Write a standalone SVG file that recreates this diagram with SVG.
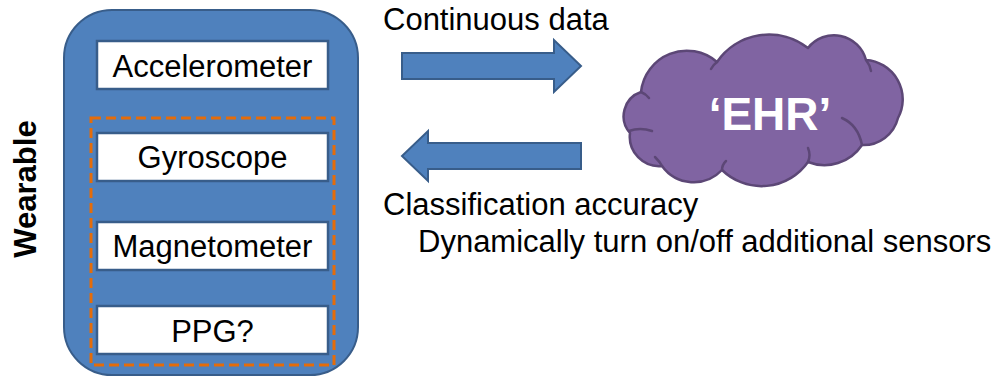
<svg xmlns="http://www.w3.org/2000/svg" width="996" height="378" viewBox="0 0 996 378">
<style>
.lbl{font-family:"Liberation Sans",Arial,sans-serif;font-size:31px;fill:#000}
.box{fill:#fff;stroke:#385D8A;stroke-width:2.5}
.btxt{font-family:"Liberation Sans",Arial,sans-serif;font-size:31px;fill:#000;text-anchor:middle}
.arrow{fill:#4F81BD;stroke:#385D8A;stroke-width:2;stroke-linejoin:miter}
.curl{fill:none;stroke:#5C4776;stroke-width:2.5;stroke-linecap:round}
</style>
<rect width="996" height="378" fill="#fff"/>
<g id="wearable">
  <rect x="64" y="10" width="294" height="365" rx="48" ry="48" fill="#4F81BD" stroke="#385D8A" stroke-width="2"/>
  <text class="lbl" transform="translate(36,189) rotate(-90)" text-anchor="middle" style="font-weight:bold;font-size:31px">Wearable</text>
</g>
<g id="optional-group">
  <rect x="91" y="118" width="243" height="247" fill="none" stroke="#E46C0A" stroke-width="3" stroke-dasharray="10,5"/>
</g>
<g id="accelerometer">
  <rect class="box" x="97" y="41" width="231" height="48"/>
  <text class="btxt" x="212.5" y="76.5">Accelerometer</text>
</g>
<g id="gyroscope">
  <rect class="box" x="97" y="133" width="231" height="48"/>
  <text class="btxt" x="212.5" y="167.5">Gyroscope</text>
</g>
<g id="magnetometer">
  <rect class="box" x="97" y="222" width="231" height="48"/>
  <text class="btxt" x="212.5" y="257">Magnetometer</text>
</g>
<g id="ppg">
  <rect class="box" x="97" y="306" width="231" height="48"/>
  <text class="btxt" x="212.5" y="341.5">PPG?</text>
</g>
<g id="ehr">
  <path d="M630,133 A25.5,25.5 0 0 1 641,92 A46,46 0 0 1 717,62 A63,63 0 0 1 808,48 A33,33 0 0 1 866,60 A39.4,39.4 0 0 1 898,118 A35.6,35.6 0 0 1 862,145 A45,45 0 0 1 808,162 A56.7,56.7 0 0 1 722,170 A39,39 0 0 1 662,166 A29.5,29.5 0 0 1 630,133 Z" fill="#8064A2" stroke="#5C4776" stroke-width="2.5" stroke-linejoin="round"/>
  <path class="curl" d="M629,131 Q640,127 652,131"/>
  <path class="curl" d="M655,157 Q660,162 662,166"/>
  <path class="curl" d="M722,170 Q722,165 726,161"/>
  <path class="curl" d="M808,162 Q811,155 808,148"/>
  <path class="curl" d="M842,118 Q858,125 862,145"/>
  <path class="curl" d="M866,60 Q870,65 871,71"/>
  <path class="curl" d="M717,62 Q713,65 711,69"/>
  <path class="curl" d="M641,92 Q646,94 649,98"/>
  <text x="770" y="130" text-anchor="middle" style="font-family:'Liberation Sans',Arial,sans-serif;font-weight:bold;font-size:46px;fill:#fff">‘EHR’</text>
</g>
<g id="connectors">
  <polygon class="arrow" points="402,53 554,53 554,40 581,66 554,92 554,79 402,79"/>
  <polygon class="arrow" points="581,143 428,143 428,131 402,156 428,181 428,169 581,169"/>
</g>
<g id="labels">
  <text class="lbl" x="383" y="30">Continuous data</text>
  <text class="lbl" x="383" y="215">Classification accuracy</text>
  <text class="lbl" x="418" y="252">Dynamically turn on/off additional sensors</text>
</g>
</svg>
